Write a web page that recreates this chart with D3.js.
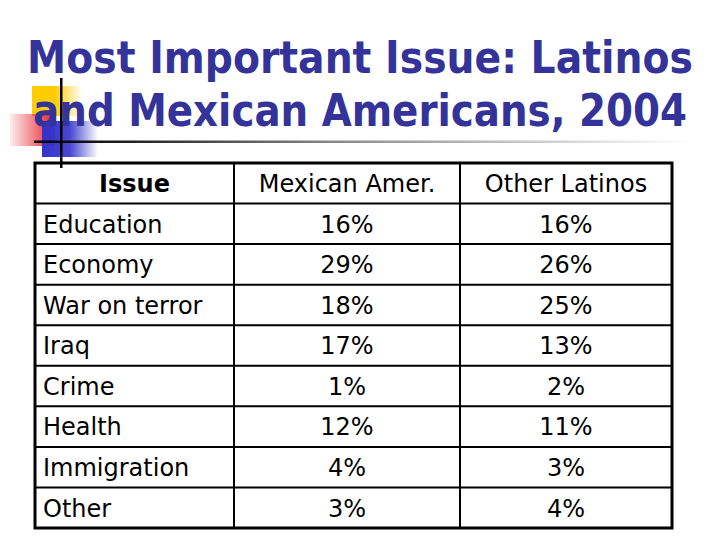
<!DOCTYPE html>
<html>
<head>
<meta charset="utf-8">
<script src="https://cdn.jsdelivr.net/npm/d3@7"></script>
<style>
  html, body { margin: 0; padding: 0; background: #ffffff; }
  svg { display: block; }
</style>
</head>
<body>
<script>
// ---- Data ----
const titleLines = ["Most Important Issue: Latinos", "and Mexican Americans, 2004"];
const headers = ["Issue", "Mexican Amer.", "Other Latinos"];
const issues = ["Education", "Economy", "War on terror", "Iraq", "Crime", "Health", "Immigration", "Other"];
const mexicanAmer = [16, 29, 18, 17, 1, 12, 4, 3];
const otherLatinos = [16, 26, 25, 13, 2, 11, 3, 4];

// ---- Layout ----
const W = 720, H = 540;
const svg = d3.select("body").append("svg").attr("width", W).attr("height", H);
svg.append("rect").attr("width", W).attr("height", H).attr("fill", "#ffffff");

const defs = svg.append("defs");
function hGrad(id, stops) {
  const g = defs.append("linearGradient").attr("id", id)
    .attr("x1", "0%").attr("y1", "0%").attr("x2", "100%").attr("y2", "0%");
  stops.forEach(s => g.append("stop").attr("offset", s[0]).attr("stop-color", s[1]).attr("stop-opacity", s[2]));
}
hGrad("gYellow", [["0%", "#FFCC00", 1], ["45%", "#FFCC00", 1], ["100%", "#FFCC00", 0]]);
hGrad("gRed", [["0%", "#E8202A", 0.08], ["100%", "#E8202A", 1]]);
hGrad("gBlue", [["0%", "#3333CC", 1], ["50%", "#3333CC", 0.9], ["100%", "#3333CC", 0]]);
hGrad("gLine", [["0%", "#000000", 1], ["15%", "#222222", 1], ["45%", "#888888", 1], ["100%", "#ffffff", 1]]);

// decorative squares
svg.append("rect").attr("x", 32).attr("y", 86).attr("width", 50).attr("height", 30).attr("fill", "url(#gYellow)");
svg.append("rect").attr("x", 10).attr("y", 114).attr("width", 45).attr("height", 32).attr("fill", "url(#gRed)");
svg.append("rect").attr("x", 42).attr("y", 121).attr("width", 56).attr("height", 36).attr("fill", "url(#gBlue)");

// title (horizontally condensed to match the original face)
const titleBase = [72.5, 126];
const titleWidths = [666, 654];
const titleG = svg.selectAll("g.title").data(titleLines).join("g")
  .attr("class", "title");
titleG.append("text")
  .attr("x", 0).attr("y", 0)
  .attr("text-anchor", "middle")
  .attr("font-family", "'DejaVu Sans', Verdana, sans-serif")
  .attr("font-weight", "bold")
  .attr("font-size", 44)
  .attr("fill", "#333399")
  .text(d => d);
titleG.each(function (d, i) {
  const t = d3.select(this).select("text").node();
  const w = t.getComputedTextLength();
  const k = titleWidths[i] / w;
  d3.select(this).attr("transform", `translate(360,${titleBase[i]}) scale(${k},1)`);
});

// decorative lines
svg.append("rect").attr("x", 34).attr("y", 140.5).attr("width", 660).attr("height", 2.5).attr("fill", "url(#gLine)");
svg.append("rect").attr("x", 60).attr("y", 78).attr("width", 2.5).attr("height", 90).attr("fill", "#000000");

// ---- Table ----
const colEdges = [35, 234, 460, 672];
const rowKeys = ["header"].concat(issues);
const y = d3.scaleBand().domain(rowKeys).range([163, 528]).padding(0);
const colCenter = i => (colEdges[i] + colEdges[i + 1]) / 2;

const table = svg.append("g");
table.selectAll("line.hr").data(rowKeys.slice(1)).join("line")
  .attr("class", "hr")
  .attr("x1", colEdges[0]).attr("x2", colEdges[3])
  .attr("y1", d => y(d)).attr("y2", d => y(d))
  .attr("stroke", "#000").attr("stroke-width", 2);
table.selectAll("line.vr").data([1, 2]).join("line")
  .attr("class", "vr")
  .attr("x1", d => colEdges[d]).attr("x2", d => colEdges[d])
  .attr("y1", y.range()[0]).attr("y2", y.range()[1])
  .attr("stroke", "#000").attr("stroke-width", 2);
table.append("rect")
  .attr("x", colEdges[0]).attr("y", y.range()[0])
  .attr("width", colEdges[3] - colEdges[0]).attr("height", y.range()[1] - y.range()[0])
  .attr("fill", "none").attr("stroke", "#000").attr("stroke-width", 3);

const font = "'DejaVu Sans', Verdana, sans-serif";
const fs = 24;
const textDy = 8.8;

table.selectAll("text.hdr").data(headers).join("text")
  .attr("class", "hdr")
  .attr("x", (d, i) => colCenter(i))
  .attr("y", y("header") + y.bandwidth() / 2 + textDy)
  .attr("text-anchor", "middle")
  .attr("font-family", font).attr("font-size", fs)
  .attr("font-weight", (d, i) => i === 0 ? "bold" : "normal")
  .attr("fill", "#000")
  .text(d => d);

table.selectAll("text.issue").data(issues).join("text")
  .attr("class", "issue")
  .attr("x", colEdges[0] + 8)
  .attr("y", d => y(d) + y.bandwidth() / 2 + textDy)
  .attr("font-family", font).attr("font-size", fs)
  .attr("fill", "#000")
  .text(d => d);

const fmt = v => v + "%";
table.selectAll("text.mex").data(mexicanAmer).join("text")
  .attr("class", "mex")
  .attr("x", colCenter(1))
  .attr("y", (d, i) => y(issues[i]) + y.bandwidth() / 2 + textDy)
  .attr("text-anchor", "middle")
  .attr("font-family", font).attr("font-size", fs)
  .attr("fill", "#000")
  .text(fmt);

table.selectAll("text.oth").data(otherLatinos).join("text")
  .attr("class", "oth")
  .attr("x", colCenter(2))
  .attr("y", (d, i) => y(issues[i]) + y.bandwidth() / 2 + textDy)
  .attr("text-anchor", "middle")
  .attr("font-family", font).attr("font-size", fs)
  .attr("fill", "#000")
  .text(fmt);
</script>
</body>
</html>
